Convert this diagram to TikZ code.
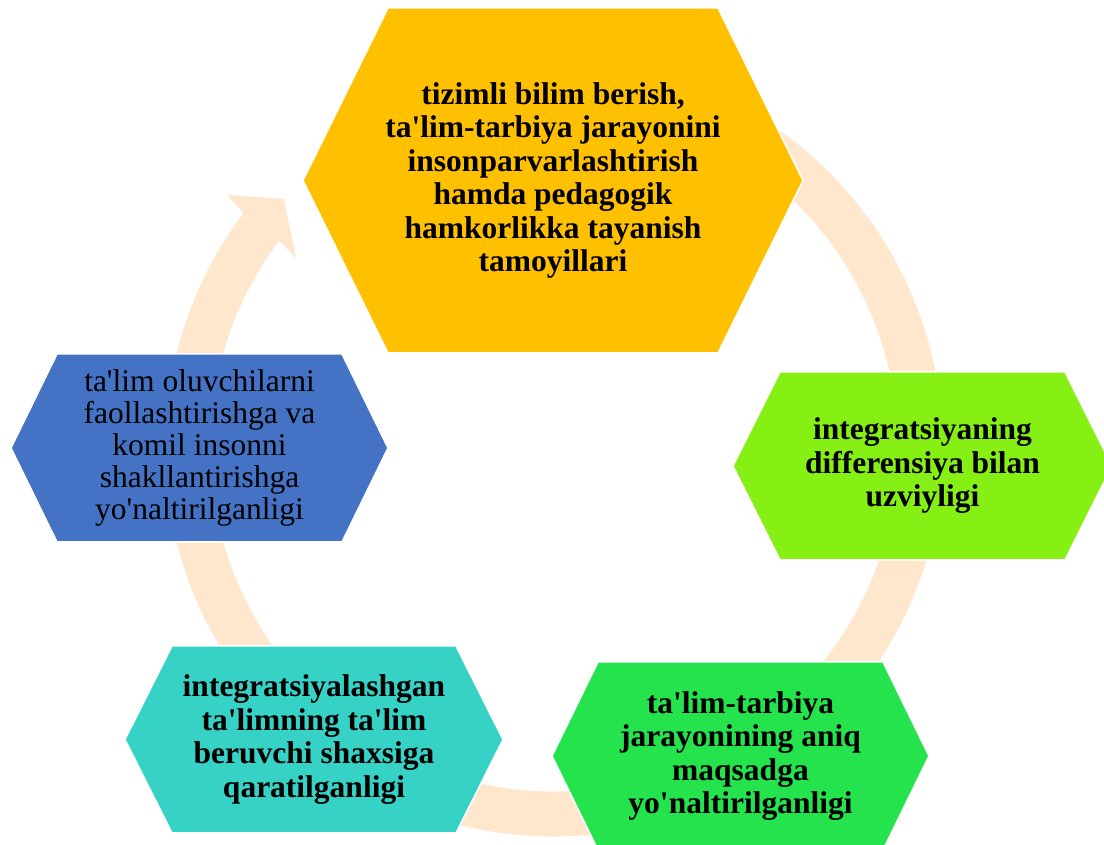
\documentclass[tikz,border=0pt]{standalone}
\usepackage{fontspec}
\setmainfont{Liberation Serif}[Ligatures=TeXOff]
\definecolor{ringc}{RGB}{255,231,206}
\definecolor{cyellow}{RGB}{255,192,0}
\definecolor{clime}{RGB}{134,239,20}
\definecolor{cgreen}{RGB}{36,227,76}
\definecolor{cteal}{RGB}{54,210,198}
\definecolor{cblue}{RGB}{68,114,196}
% #1 style, #2 cx, #3 cy, #4 half width, #5 half height, #6 inset
\newcommand\hexpath[6]{%
  \filldraw[#1] (#2-#4,#3) -- (#2-#4+#6,#3+#5) -- (#2+#4-#6,#3+#5) --
    (#2+#4,#3) -- (#2+#4-#6,#3-#5) -- (#2-#4+#6,#3-#5) -- cycle;}
\tikzset{
  hexbox/.style={draw=white,line width=1.5pt},
  boldtext/.style={align=center,text=black,font=\fontsize{31.5}{33.5}\selectfont\bfseries},
  plaintext/.style={align=center,text=black,font=\fontsize{31.5}{32}\selectfont},
}
\begin{document}
\begin{tikzpicture}[x=1pt,y=1pt]
\useasboundingbox (0,0) rectangle (1104,845);
\clip (0,0) rectangle (1104,845);
\coordinate (c) at (554,397.5);
% circular arrow
\fill[ringc] ([shift={(60:389)}]c) arc[start angle=60,end angle=-217,radius=389]
  -- (227,650) -- (284,646) -- (296,587)
  -- ([shift={(-217:344)}]c) arc[start angle=-217,end angle=60,radius=344] -- cycle;
% hexagons
\hexpath{hexbox,fill=cyellow}{553}{664.5}{250}{172.5}{85}
\hexpath{hexbox,fill=clime}{922.5}{379}{189.5}{94}{47}
\hexpath{hexbox,fill=cgreen}{740.5}{89}{188.5}{94}{46}
\hexpath{hexbox,fill=cteal}{314}{105.5}{189}{93.5}{47}
\hexpath{hexbox,fill=cblue}{199.5}{397}{188.5}{94}{46}
% texts
\node[boldtext] (t1) at (553,664.5) {tizimli bilim berish,\\ta'lim-tarbiya jarayonini\\insonparvarlashtirish\\hamda pedagogik\\hamkorlikka tayanish\\tamoyillari};
\node[boldtext] (t2) at (922.5,379) {integratsiyaning\\differensiya bilan\\uzviyligi};
\node[boldtext] (t3) at (740.5,89) {ta'lim-tarbiya\\jarayonining aniq\\maqsadga\\yo'naltirilganligi};
\node[boldtext] (t4) at (314,105.5) {integratsiyalashgan\\ta'limning ta'lim\\beruvchi shaxsiga\\qaratilganligi};
\node[plaintext] (t5) at (199.5,397) {ta'lim oluvchilarni\\faollashtirishga va\\komil insonni\\shakllantirishga\\yo'naltirilganligi};
\end{tikzpicture}
\end{document}
